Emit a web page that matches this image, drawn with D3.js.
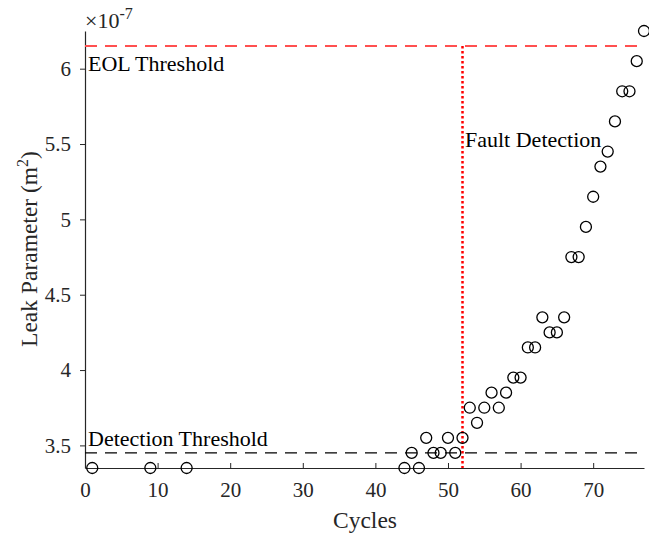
<!DOCTYPE html>
<html><head><meta charset="utf-8">
<script src="https://cdn.jsdelivr.net/npm/d3@7/dist/d3.min.js"></script>
<style>body{margin:0;background:#fff}</style>
</head><body><svg id="c" width="649" height="535"></svg>
<script>
const cycles = [1,9,14,44,45,46,47,48,49,50,51,52,53,54,55,56,57,58,59,60,61,62,63,64,65,66,67,68,69,70,71,72,73,74,75,76,77];
const leak = [3.35,3.35,3.35,3.35,3.45,3.35,3.55,3.45,3.45,3.55,3.45,3.55,3.75,3.65,3.75,3.85,3.75,3.85,3.95,3.95,4.15,4.15,4.35,4.25,4.25,4.35,4.75,4.75,4.95,5.15,5.35,5.45,5.65,5.85,5.85,6.05,6.25];
const xTicks = [0,10,20,30,40,50,60,70];
const yTicks = [3.5,4,4.5,5,5.5,6];
const eolThreshold = 6.15;
const detectionThreshold = 3.45;
const faultCycle = 52;

const svg = d3.select("#c");
const font = "'Liberation Serif','Times New Roman',serif";
const axCol = "#262626";
const x = d3.scaleLinear().domain([0,77]).range([85,644]);
const y = d3.scaleLinear().domain([3.35,6.25]).range([468,31]);

// axes
const xa = svg.append("g").attr("transform","translate(0,468)")
  .call(d3.axisBottom(x).tickValues(xTicks).tickSize(-5).tickPadding(14).tickSizeOuter(0));
const ya = svg.append("g").attr("transform","translate(85,0)")
  .call(d3.axisLeft(y).tickValues(yTicks).tickSize(5).tickPadding(9).tickSizeOuter(0).tickFormat(d=>d));
[xa,ya].forEach(g=>{
  g.selectAll("path").attr("stroke",axCol).attr("stroke-width",1.2);
  g.selectAll("line").attr("stroke",axCol);
  g.selectAll("text").attr("font-family",font).attr("font-size",21).attr("fill",axCol);
});

// threshold lines
svg.append("line").attr("x1",x(0)).attr("x2",x(77)).attr("y1",y(eolThreshold)).attr("y2",y(eolThreshold))
  .attr("stroke","#ff5050").attr("stroke-width",2).attr("stroke-dasharray","12,8");
svg.append("line").attr("x1",x(0)).attr("x2",x(77)).attr("y1",y(detectionThreshold)).attr("y2",y(detectionThreshold))
  .attr("stroke","#000").attr("stroke-width",1.2).attr("stroke-dasharray","12,8");
svg.append("line").attr("x1",x(faultCycle)).attr("x2",x(faultCycle)).attr("y1",y(eolThreshold)).attr("y2",y(3.35))
  .attr("stroke","#ff0000").attr("stroke-width",2.5).attr("stroke-dasharray","2.5,2.5");

// points
svg.append("g").selectAll("circle").data(cycles).join("circle")
  .attr("cx",(d)=>x(d)).attr("cy",(d,i)=>y(leak[i])).attr("r",5.5)
  .attr("fill","none").attr("stroke","#000").attr("stroke-width",1.3);

// annotations
const t = (txt,xx,yy,opts={}) => svg.append("text").attr("x",xx).attr("y",yy)
  .attr("font-family",font).attr("font-size",opts.size||22).attr("fill",opts.fill||"#000")
  .attr("text-anchor",opts.anchor||"start").text(txt);
t("EOL Threshold",88,71);
t("Fault Detection",465,147);
t("Detection Threshold",88,446);

// exponent
const ex = svg.append("text").attr("x",85).attr("y",28).attr("font-family",font).attr("font-size",22).attr("fill",axCol);
ex.append("tspan").text("\u00d710");
ex.append("tspan").attr("dy",-9).attr("font-size",16).text("-7");

// axis labels
svg.append("text").attr("x",365).attr("y",528).attr("text-anchor","middle")
  .attr("font-family",font).attr("font-size",23.5).attr("fill",axCol).text("Cycles");
const yl = svg.append("text").attr("transform","translate(37,249) rotate(-90)").attr("text-anchor","middle")
  .attr("font-family",font).attr("font-size",23.5).attr("fill",axCol);
yl.append("tspan").text("Leak Parameter (m");
yl.append("tspan").attr("dy",-9).attr("font-size",16).text("2");
yl.append("tspan").attr("dy",9).text(")");
</script></body></html>
